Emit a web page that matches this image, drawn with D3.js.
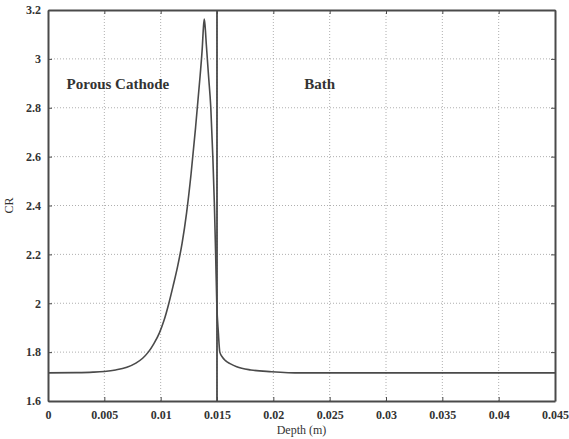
<!DOCTYPE html>
<html><head><meta charset="utf-8">
<script src="https://cdn.jsdelivr.net/npm/d3@7"></script>
<style>body{margin:0;background:#fff;} svg{display:block;}</style>
</head><body>
<script>
const xTicks = [0, 0.005, 0.01, 0.015, 0.02, 0.025, 0.03, 0.035, 0.04, 0.045];
const xTickLabels = ["0","0.005","0.01","0.015","0.02","0.025","0.03","0.035","0.04","0.045"];
const yTicks = [1.6, 1.8, 2, 2.2, 2.4, 2.6, 2.8, 3, 3.2];
const yTickLabels = ["1.6","1.8","2","2.2","2.4","2.6","2.8","3","3.2"];
const depth = [0, 0.0025, 0.004, 0.005, 0.006, 0.007, 0.0078, 0.0084, 0.0089, 0.0094, 0.0099, 0.0103, 0.0107, 0.0111, 0.0115, 0.0119, 0.0123, 0.0127, 0.0131, 0.0135, 0.0137, 0.01379, 0.01387, 0.01395, 0.01405, 0.01425, 0.01445, 0.01463, 0.01477, 0.01488, 0.01498, 0.01512, 0.01525, 0.0155, 0.01575, 0.0162, 0.01675, 0.0180, 0.01985, 0.0224, 0.045];
const cr =    [1.715, 1.716, 1.718, 1.721, 1.727, 1.738, 1.755, 1.775, 1.80, 1.835, 1.88, 1.93, 1.995, 2.07, 2.15, 2.245, 2.37, 2.53, 2.72, 2.93, 3.05, 3.125, 3.163, 3.13, 3.06, 2.93, 2.80, 2.60, 2.40, 2.20, 2.00, 1.88, 1.80, 1.778, 1.765, 1.752, 1.740, 1.727, 1.72, 1.715, 1.715];
const interfaceX = 0.015;
const regionLabels = [{text:"Porous Cathode", x:0.00165, y:2.9}, {text:"Bath", x:0.02275, y:2.9}];
const xTitle = "Depth (m)", yTitle = "CR";

const W = 569, H = 439;
const m = {l:48, r:14, t:10, b:38};
const svg = d3.select("body").append("svg").attr("width", W).attr("height", H);
const x = d3.scaleLinear().domain([0, 0.045]).range([m.l, W - m.r]);
const y = d3.scaleLinear().domain([1.6, 3.2]).range([H - m.b, m.t]);
const ink = "#4a4a4a";
const font = "'Liberation Serif', 'DejaVu Serif', serif";

// grid
const g = svg.append("g");
g.selectAll("line.gx").data(xTicks.slice(1, -1)).join("line")
  .attr("x1", d => x(d)).attr("x2", d => x(d)).attr("y1", y(1.6)).attr("y2", y(3.2))
  .attr("stroke", "#9a9a9a").attr("stroke-width", 0.8).attr("stroke-dasharray", "1,2");
g.selectAll("line.gy").data(yTicks.slice(1, -1)).join("line")
  .attr("y1", d => y(d)).attr("y2", d => y(d)).attr("x1", x(0)).attr("x2", x(0.045))
  .attr("stroke", "#9a9a9a").attr("stroke-width", 0.8).attr("stroke-dasharray", "1,2");

// axes
const xAxis = d3.axisBottom(x).tickValues(xTicks).tickFormat((d, i) => xTickLabels[i]).tickSizeInner(-4).tickSizeOuter(0).tickPadding(9);
const yAxis = d3.axisLeft(y).tickValues(yTicks).tickFormat((d, i) => yTickLabels[i]).tickSizeInner(-4).tickSizeOuter(0).tickPadding(7);
const ax = svg.append("g").attr("transform", `translate(0,${y(1.6)})`).call(xAxis);
const ay = svg.append("g").attr("transform", `translate(${x(0)},0)`).call(yAxis);
const axTop = svg.append("g").attr("transform", `translate(0,${y(3.2)})`).call(d3.axisTop(x).tickValues(xTicks).tickFormat("").tickSizeInner(-4).tickSizeOuter(0));
const ayRight = svg.append("g").attr("transform", `translate(${x(0.045)},0)`).call(d3.axisRight(y).tickValues(yTicks).tickFormat("").tickSizeInner(-4).tickSizeOuter(0));
[ax, ay, axTop, ayRight].forEach(a => {
  a.select(".domain").attr("stroke", ink).attr("stroke-width", 2);
  a.selectAll(".tick line").attr("stroke", ink).attr("stroke-width", 1);
  a.selectAll("text").attr("fill", "#333").attr("font-family", font).attr("font-size", 12).attr("font-weight", "bold");
});

// interface line
svg.append("line").attr("x1", x(interfaceX)).attr("x2", x(interfaceX)).attr("y1", y(1.6)).attr("y2", y(3.2))
  .attr("stroke", ink).attr("stroke-width", 1.8);

// curve
const pts = depth.map((d, i) => [d, cr[i]]);
svg.append("path").datum(pts)
  .attr("d", d3.line().x(d => x(d[0])).y(d => y(d[1])).curve(d3.curveMonotoneX))
  .attr("fill", "none").attr("stroke", ink).attr("stroke-width", 1.6);

// region labels
svg.selectAll("text.reg").data(regionLabels).join("text")
  .attr("x", d => x(d.x)).attr("y", d => y(d.y)).attr("dy", "0.35em")
  .attr("font-family", font).attr("font-size", 15).attr("font-weight", "bold").attr("fill", "#333")
  .text(d => d.text);

// titles
svg.append("text").attr("x", (x(0) + x(0.045)) / 2).attr("y", 434).attr("text-anchor", "middle")
  .attr("font-family", font).attr("font-size", 12).attr("fill", "#333").text(xTitle);
svg.append("text").attr("transform", `translate(13,${y(2.4)}) rotate(-90)`).attr("text-anchor", "middle")
  .attr("font-family", font).attr("font-size", 12).attr("fill", "#333").text(yTitle);
</script>
</body></html>
